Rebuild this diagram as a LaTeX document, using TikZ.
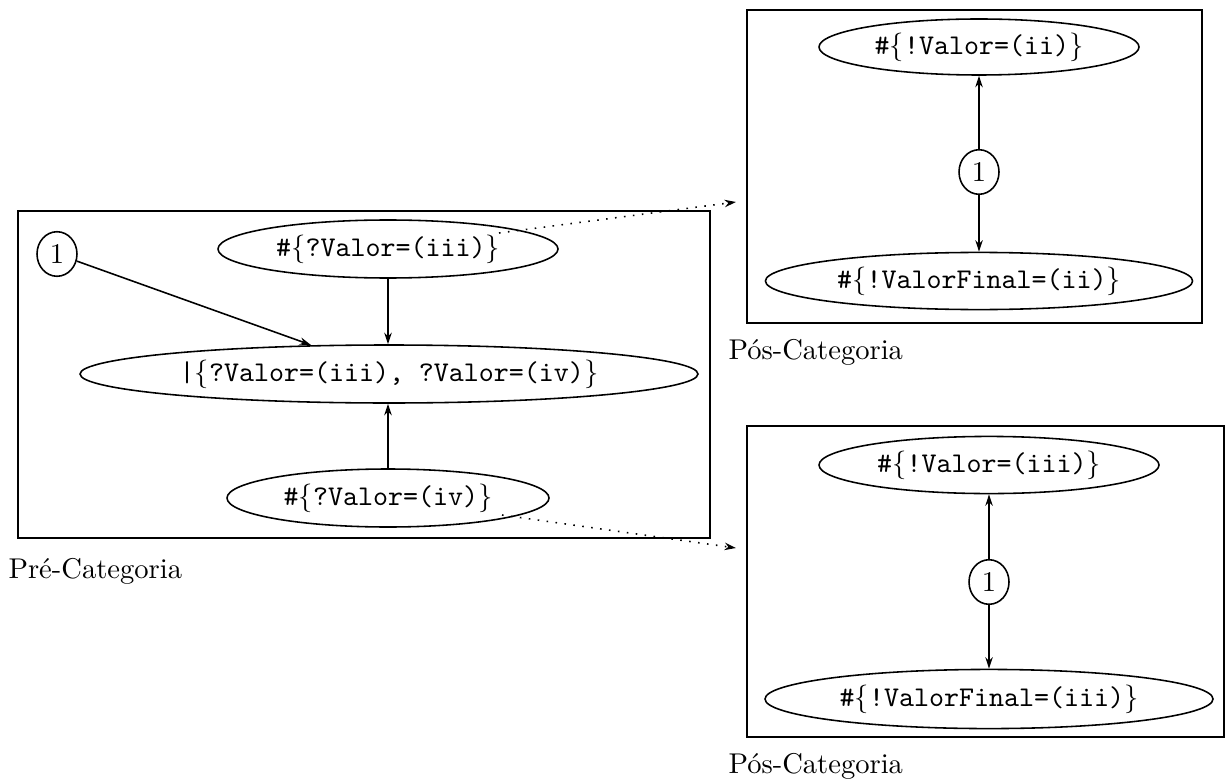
\documentclass[tikz,border=0pt]{standalone}
\usetikzlibrary{shapes.geometric,arrows.meta}
\begin{document}
\begin{tikzpicture}[x=0.35pt,y=-0.35pt,
  lw/.style={line width=0.55pt},
  ell/.style={ellipse,draw,lw,inner sep=0pt,font=\ttfamily},
  num/.style={ellipse,draw,lw,inner sep=0pt,minimum width=14pt,minimum height=15.6pt},
  frame/.style={draw,line width=0.7pt},
  arr/.style={lw,-{Stealth[length=4pt,width=2.6pt]}},
  dots/.style={lw,dash pattern=on 0.55pt off 2.6pt,-{Stealth[length=4pt,width=2.6pt]}},
  lbl/.style={anchor=west,inner sep=0pt}]
\useasboundingbox (0,0) rectangle (1226,782);
% left frame
\draw[frame] (18,211) rectangle (710,538);
\node[num] (c1) at (57,254) {1};
\node[ell,minimum width=119pt,minimum height=20.3pt] (t) at (388,249) {\#$\{$?Valor=(iii)$\}$};
\node[ell,minimum width=216.3pt,minimum height=20.3pt] (m) at (389,374) {|$\{$?Valor=(iii), ?Valor=(iv)$\}$};
\node[ell,minimum width=112.7pt,minimum height=20.3pt] (b) at (388,498) {\#$\{$?Valor=(iv)$\}$};
\coordinate (m1) at (311,345);
\draw[arr] (t.south) -- (t.south |- m.north);
\draw[arr] (c1) -- (m1);
\draw[arr] (b.north) -- (b.north |- m.south);
\node[lbl] (l1) at (8,571) {Pré-Categoria};
% top right frame
\draw[frame] (747,10) rectangle (1202,323);
\node[ell,minimum width=112pt,minimum height=19.6pt] (a1) at (979,47) {\#$\{$!Valor=(ii)$\}$};
\node[num] (c2) at (979,172) {1};
\node[ell,minimum width=149.5pt,minimum height=20pt] (a2) at (979,281) {\#$\{$!ValorFinal=(ii)$\}$};
\draw[arr] (c2) -- (a1);
\draw[arr] (c2) -- (a2);
\node[lbl] (l2) at (728,352) {Pós-Categoria};
% bottom right frame
\draw[frame] (747,426) rectangle (1224,737);
\node[ell,minimum width=119pt,minimum height=20pt] (d1) at (989,465) {\#$\{$!Valor=(iii)$\}$};
\node[num] (c3) at (989,582) {1};
\node[ell,minimum width=156.8pt,minimum height=20.7pt] (d2) at (989,699) {\#$\{$!ValorFinal=(iii)$\}$};
\draw[arr] (c3) -- (d1);
\draw[arr] (c3) -- (d2);
\node[lbl] (l3) at (728,766) {Pós-Categoria};
% dotted connectors
\coordinate (s1) at (499,233);
\coordinate (e1) at (736,202);
\coordinate (s2) at (502,515);
\coordinate (e2) at (736,548);
\draw[dots] (s1) -- (e1);
\draw[dots] (s2) -- (e2);
\end{tikzpicture}
\end{document}
